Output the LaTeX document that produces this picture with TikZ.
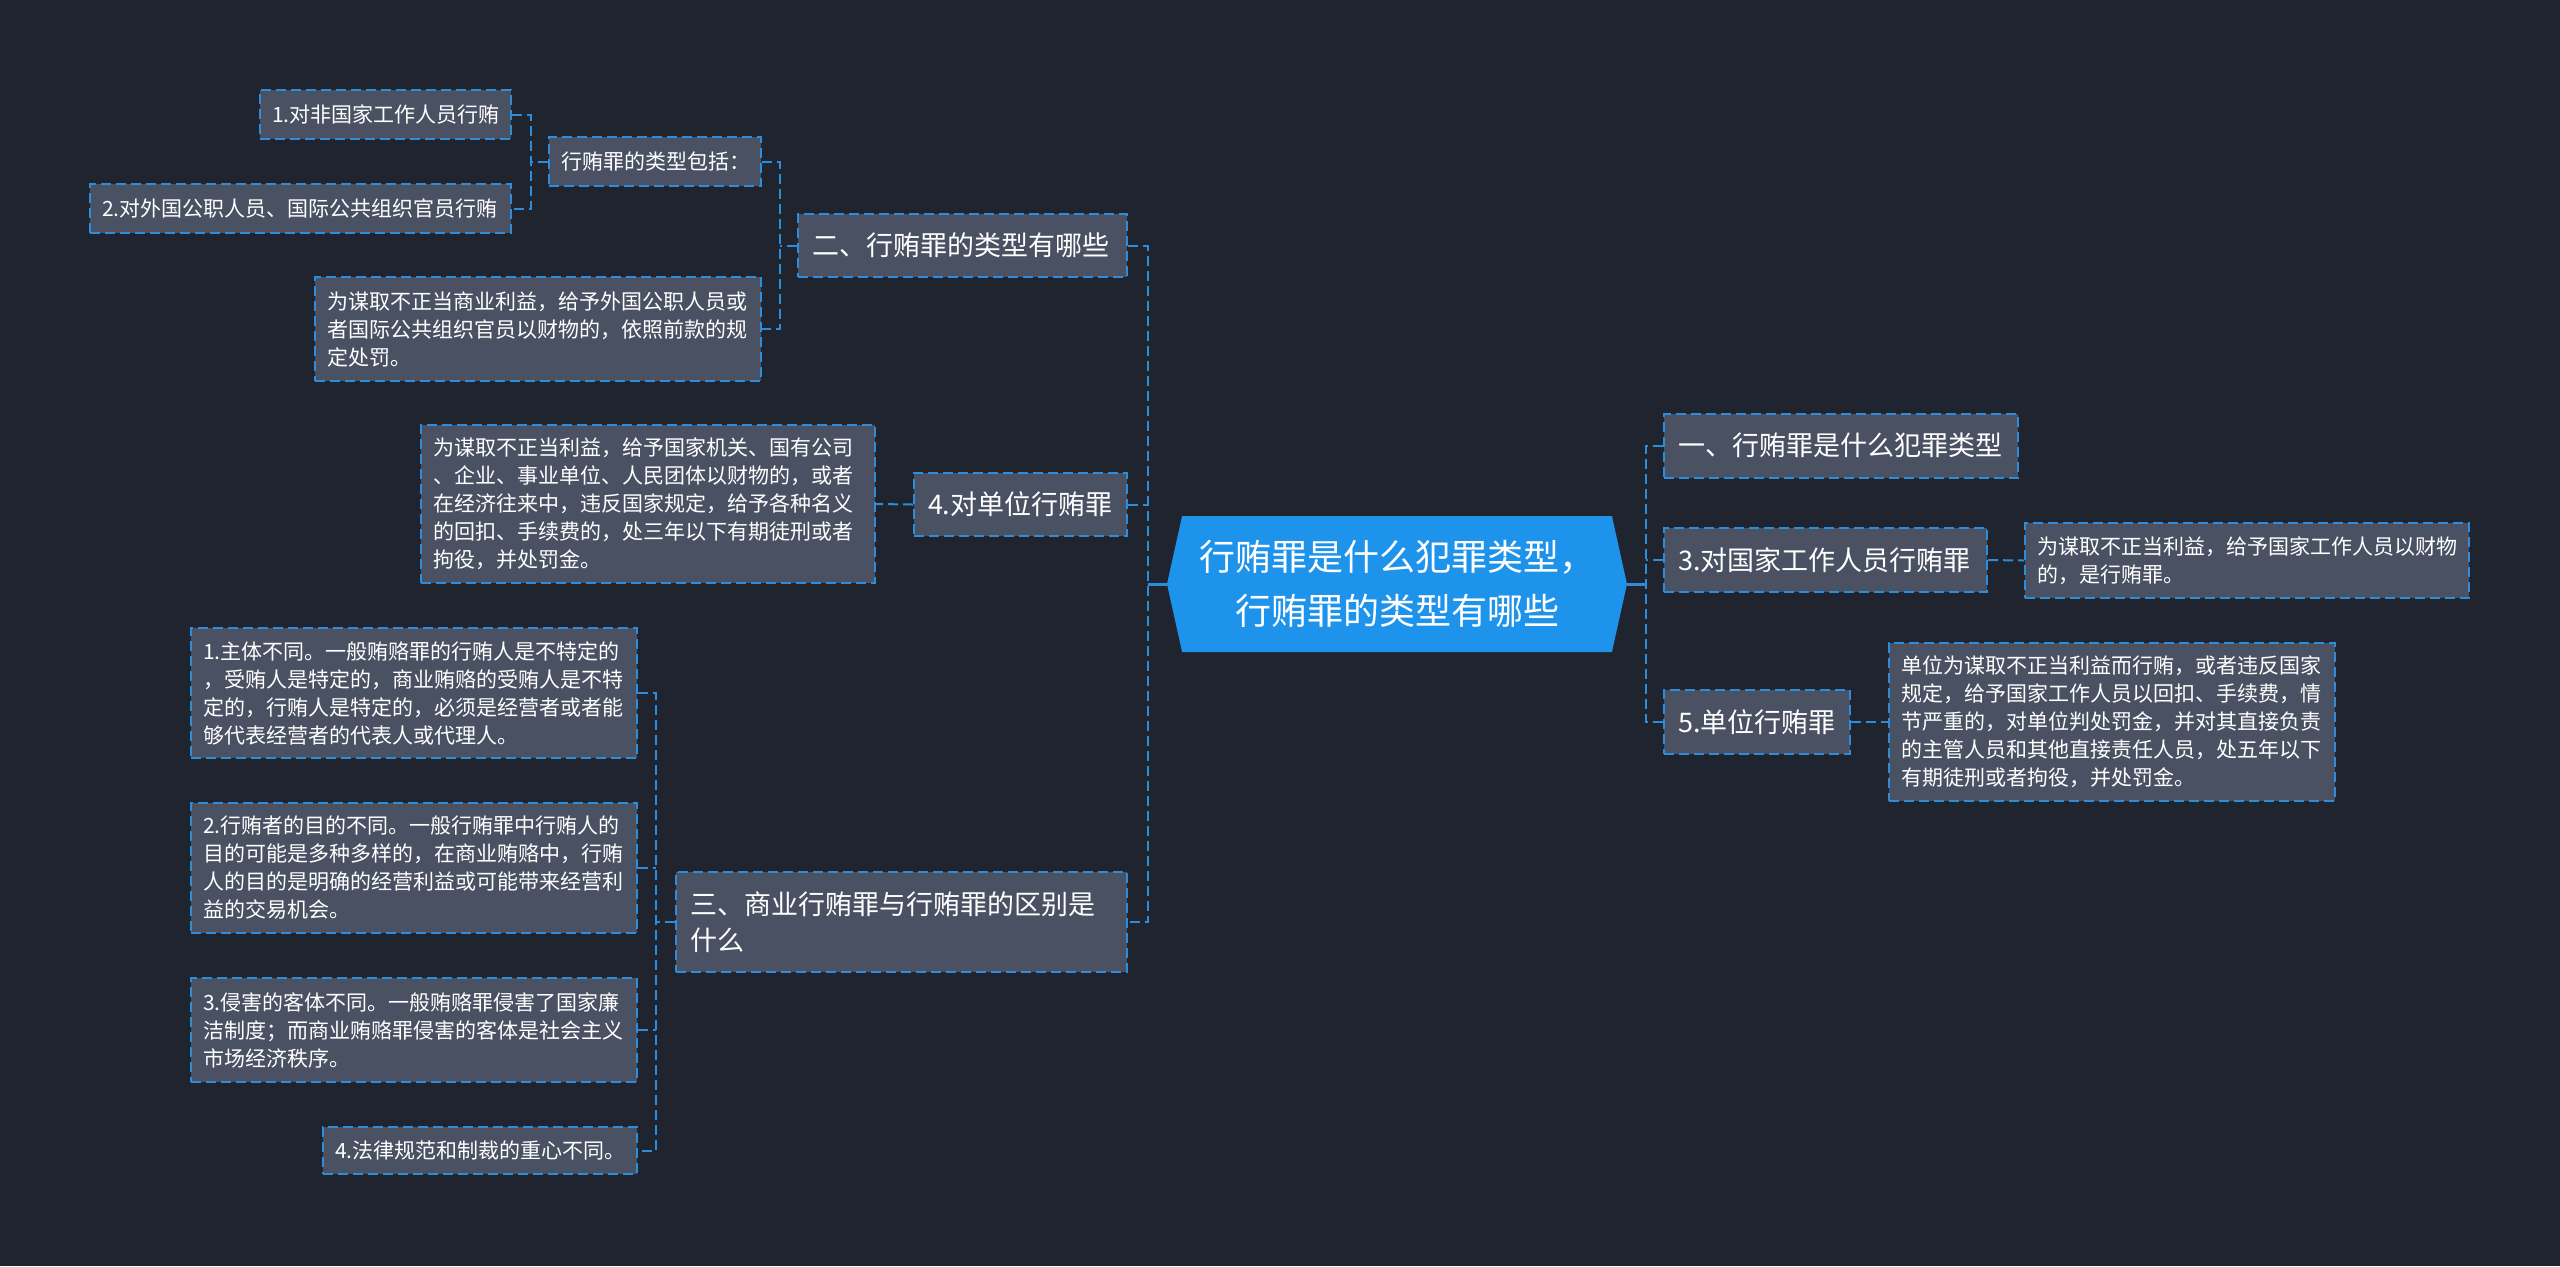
\documentclass[tikz,border=0pt]{standalone}
\usepackage{fontspec}
\setmainfont{Noto Sans CJK SC}
\usepackage{tikz}
\usetikzlibrary{shapes.symbols}
\definecolor{canvas}{HTML}{20242F}
\definecolor{boxgray}{HTML}{495163}
\definecolor{linkblue}{HTML}{2B8DDB}
\definecolor{hubblue}{HTML}{1E93EC}
\newcommand{\leaffont}{\fontsize{10.5}{14}\selectfont}
\newcommand{\topicfont}{\fontsize{13.5}{18}\selectfont}
\newcommand{\hubfont}{\fontsize{18}{27}\selectfont}

\begin{document}
\begin{tikzpicture}[x=0.5pt, y=-0.5pt,
        leaf/.style={draw=linkblue, line width=1pt, dash pattern=on 5pt off 2.5pt, fill=boxgray, text=white, font=\leaffont, align=left, inner xsep=6pt, inner ysep=2pt},
        topic/.style={leaf, font=\topicfont, inner xsep=7pt},
        link/.style={draw=linkblue, line width=1pt, dash pattern=on 5pt off 2.5pt},
        hubline/.style={draw=linkblue, line width=1.5pt}]
        \useasboundingbox (0,0) rectangle (2560,1266);
        \fill[canvas] (0,0) rectangle (2560,1266);

        % Tema central
        \node[signal, signal to=west and east, signal pointer angle=155, fill=hubblue, text=white, font=\hubfont, align=center, minimum width=230pt, minimum height=68pt, inner sep=0pt] (hub) at (1397,584) {行贿罪是什么犯罪类型，\\行贿罪的类型有哪些};

        % Rama: tipos de soborno
        \node[topic, text width=150.5pt, minimum height=31.5pt] (t2) at (962.5,245.5) {二、行贿罪的类型有哪些};
        \node[leaf, text width=94pt, minimum height=24.5pt] (p) at (655,161.5) {行贿罪的类型包括：};
        \node[leaf, text width=113.5pt, minimum height=24.5pt] (n1) at (385.5,114.5) {1.对非国家工作人员行贿};
        \node[leaf, text width=198.5pt, minimum height=24.5pt] (n2) at (300.5,208.5) {2.对外国公职人员、国际公共组织官员行贿};
        \node[leaf, text width=211pt, minimum height=52pt] (n3) at (538,329) {为谋取不正当商业利益，给予外国公职人员或\\者国际公共组织官员以财物的，依照前款的规\\定处罚。};

        % Rama: soborno a unidades
        \node[topic, text width=92.5pt, minimum height=31.5pt] (t4) at (1020.5,504.5) {4.对单位行贿罪};
        \node[leaf, text width=215pt, minimum height=79pt] (n4) at (648,504) {为谋取不正当利益，给予国家机关、国有公司\\、企业、事业单位、人民团体以财物的，或者\\在经济往来中，违反国家规定，给予各种名义\\的回扣、手续费的，处三年以下有期徒刑或者\\拘役，并处罚金。};

        % Rama: diferencias
        \node[topic, text width=211.5pt, minimum height=50pt] (t3) at (901.5,922) {三、商业行贿罪与行贿罪的区别是\\什么};
        \node[leaf, text width=211pt, minimum height=65pt] (m1) at (414,693) {1.主体不同。一般贿赂罪的行贿人是不特定的\\，受贿人是特定的，商业贿赂的受贿人是不特\\定的，行贿人是特定的，必须是经营者或者能\\够代表经营者的代表人或代理人。};
        \node[leaf, text width=211pt, minimum height=65pt] (m2) at (414,868) {2.行贿者的目的不同。一般行贿罪中行贿人的\\目的可能是多种多样的，在商业贿赂中，行贿\\人的目的是明确的经营利益或可能带来经营利\\益的交易机会。};
        \node[leaf, text width=211pt, minimum height=52pt] (m3) at (414,1030) {3.侵害的客体不同。一般贿赂罪侵害了国家廉\\洁制度；而商业贿赂罪侵害的客体是社会主义\\市场经济秩序。};
        \node[leaf, text width=145pt, minimum height=23.5pt] (m4) at (480,1150.5) {4.法律规范和制裁的重心不同。};

        % Ramas derechas
        \node[topic, text width=163pt, minimum height=32pt] (r1) at (1841,445.5) {一、行贿罪是什么犯罪类型};
        \node[topic, text width=147.5pt, minimum height=32pt] (r3) at (1825.5,560) {3.对国家工作人员行贿罪};
        \node[leaf, text width=210pt, minimum height=37.5pt] (r3d) at (2247,560.5) {为谋取不正当利益，给予国家工作人员以财物\\的，是行贿罪。};
        \node[topic, text width=79pt, minimum height=32pt] (r5) at (1757,722) {5.单位行贿罪};
        \node[leaf, text width=211pt, minimum height=79pt] (r5d) at (2112,722) {单位为谋取不正当利益而行贿，或者违反国家\\规定，给予国家工作人员以回扣、手续费，情\\节严重的，对单位判处罚金，并对其直接负责\\的主管人员和其他直接责任人员，处五年以下\\有期徒刑或者拘役，并处罚金。};

        % Puntos de unión
        \coordinate (s1) at (531,161.5);
        \coordinate (s2) at (780,245.5);
        \coordinate (s3) at (656,922);
        \coordinate (sl) at (1148,584);
        \coordinate (sr) at (1646,584);

        % Conectores
        \draw[hubline] (hub.west) -- (sl);
        \draw[hubline] (hub.east) -- (sr);
        \draw[link] (t2.east) -| (sl) |- (t3.east);
        \draw[link] (t4.east) -- (t4.east -| sl);
        \draw[link] (r1.west) -| (sr) |- (r5.west);
        \draw[link] (r3.west) -- (r3.west -| sr);

        \draw[link] (t2.west) -- (s2);
        \draw[link] (p.east) -| (s2) |- (n3.east);
        \draw[link] (p.west) -- (s1);
        \draw[link] (n1.east) -| (s1) |- (n2.east);

        \draw[link] (t4.west) -- (n4.east);
        \draw[link] (t3.west) -- (s3);
        \draw[link] (m1.east) -| (s3) |- (m4.east);
        \draw[link] (m2.east) -- (m2.east -| s3);
        \draw[link] (m3.east) -- (m3.east -| s3);

        \draw[link] (r3.east) -- (r3d.west);
        \draw[link] (r5.east) -- (r5d.west);
    \end{tikzpicture}
\end{document}
